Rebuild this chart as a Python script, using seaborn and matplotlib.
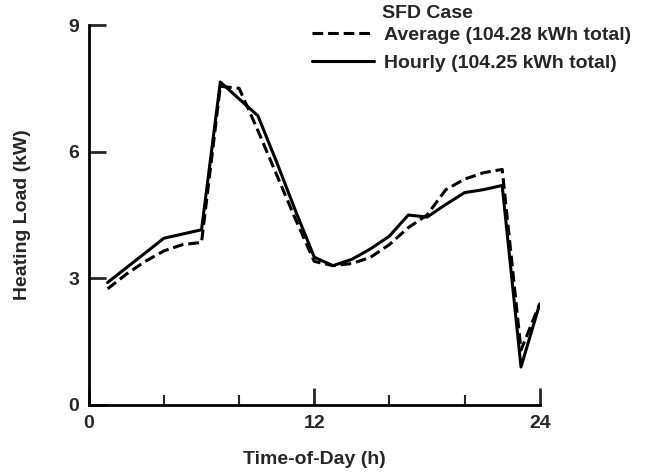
import pandas as pd
import numpy as np
import matplotlib
matplotlib.use("Agg")
import matplotlib.pyplot as plt
import seaborn as sns
from matplotlib.ticker import MultipleLocator

hours = list(range(1, 25))
hourly = [2.9, 3.25, 3.6, 3.95, 4.05, 4.15, 7.65, 7.25, 6.85, 5.75, 4.6, 3.5,
          3.3, 3.45, 3.7, 4.0, 4.5, 4.45, 4.75, 5.03, 5.1, 5.2, 0.9, 2.4]
average = [2.75, 3.1, 3.4, 3.65, 3.8, 3.85, 7.55, 7.5, 6.5, 5.45, 4.4, 3.4,
           3.3, 3.35, 3.5, 3.8, 4.2, 4.5, 5.1, 5.35, 5.5, 5.58, 1.3, 2.4]
series_names = ["Average (104.28 kWh total)", "Hourly (104.25 kWh total)"]

sns.set_style("ticks")
plt.rcParams['font.family'] = ['Liberation Sans', 'DejaVu Sans']
plt.rcParams['font.weight'] = 'bold'

df = pd.DataFrame({
    "hour": hours * 2,
    "load": average + hourly,
    "series": [series_names[0]] * 24 + [series_names[1]] * 24,
})

fig = plt.figure(figsize=(6.48, 4.72), dpi=100)
ax = fig.add_axes([0.137, 0.142, 0.696, 0.805])

sns.lineplot(data=df, x="hour", y="load", style="series", hue="series",
             palette=["black", "black"], dashes={series_names[0]: (3.5, 1.6), series_names[1]: ""},
             linewidth=2.2, ax=ax, legend=False)

ax.set_xlim(0, 24)
ax.set_ylim(0, 9)
ax.set_xticks([0, 12, 24])
ax.xaxis.set_minor_locator(MultipleLocator(4))
ax.set_yticks([0, 3, 6, 9])
ax.tick_params(which="major", direction="in", length=12, width=2, labelsize=14, pad=7)
ax.tick_params(which="minor", direction="in", length=7, width=1.5)
ax.tick_params(axis="x", which="major", pad=7)
for s in ["top", "right"]:
    ax.spines[s].set_visible(False)
for s in ["left", "bottom"]:
    ax.spines[s].set_linewidth(2)
    ax.spines[s].set_color("black")

ax.set_xlabel("Time-of-Day (h)", fontsize=14, fontweight="bold", labelpad=14)
ax.set_ylabel("Heating Load (kW)", fontsize=14, fontweight="bold", labelpad=27)

handles = [plt.Line2D([], [], color="black", lw=2.2, dashes=(3.5, 1.6)),
           plt.Line2D([], [], color="black", lw=2.2)]
fig.legend(handles, series_names, loc="upper left", bbox_to_anchor=(0.481, 0.945),
           frameon=False, fontsize=14, handlelength=3.2, handletextpad=0.5,
           labelspacing=0.55, borderpad=0, borderaxespad=0)
fig.text(0.59, 0.972, "SFD Case", fontsize=14, fontweight="bold", va="center")

fig.savefig("out.png", dpi=100)
